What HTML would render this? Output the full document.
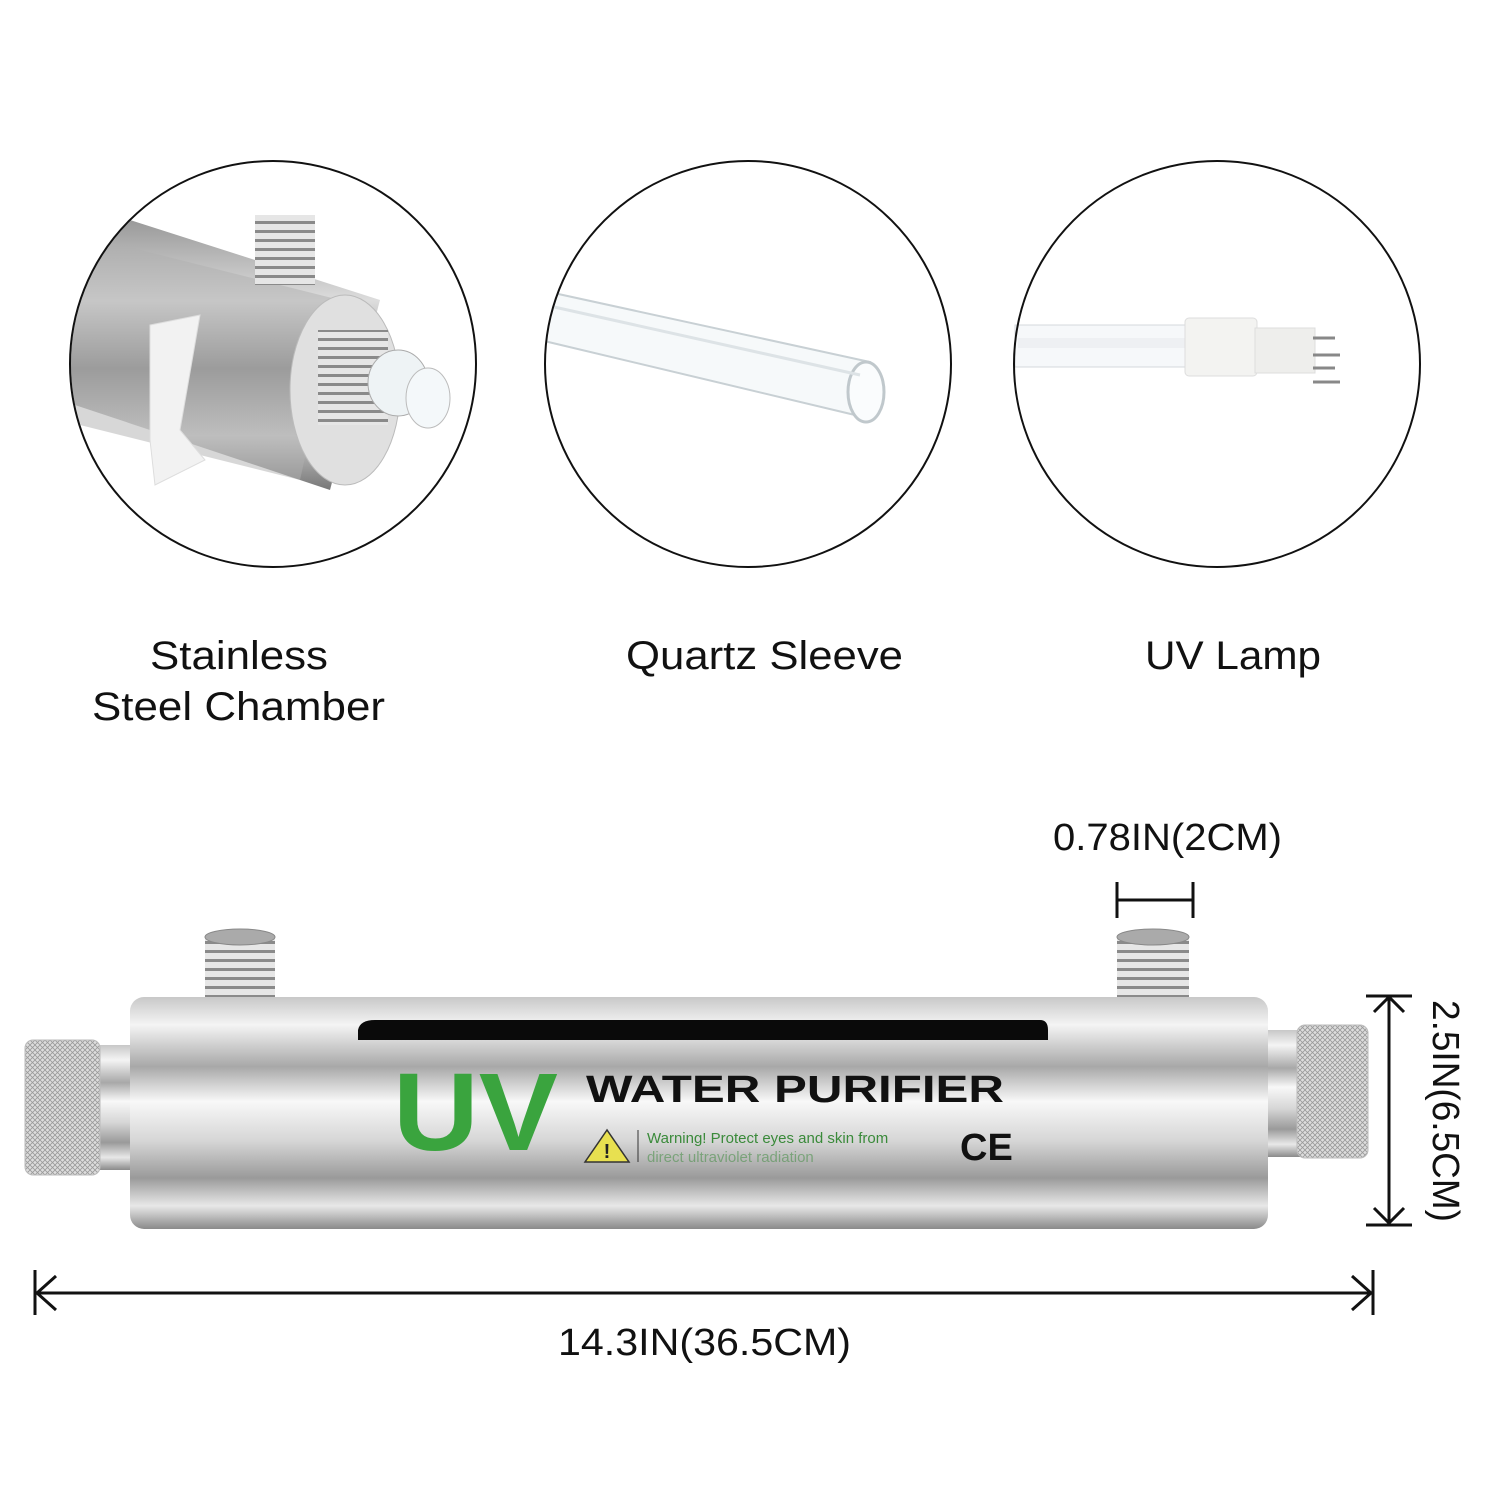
<!DOCTYPE html>
<html><head><meta charset="utf-8"><style>
html,body{margin:0;padding:0;background:#fff;}
svg{display:block;}
text{font-family:"Liberation Sans","DejaVu Sans",sans-serif;}
</style></head><body>
<svg width="1500" height="1500" viewBox="0 0 1500 1500" xmlns="http://www.w3.org/2000/svg">
<defs>
<linearGradient id="steel" x1="0" y1="0" x2="0" y2="1">
<stop offset="0" stop-color="#c8c8c8"/><stop offset="0.12" stop-color="#f4f4f4"/>
<stop offset="0.3" stop-color="#a8a8a8"/><stop offset="0.45" stop-color="#f8f8f8"/>
<stop offset="0.62" stop-color="#d6d6d6"/><stop offset="0.78" stop-color="#9a9a9a"/>
<stop offset="0.9" stop-color="#e8e8e8"/><stop offset="1" stop-color="#8a8a8a"/>
</linearGradient>
<linearGradient id="steel2" x1="0" y1="0" x2="0" y2="1">
<stop offset="0" stop-color="#999"/><stop offset="0.3" stop-color="#ddd"/>
<stop offset="0.55" stop-color="#888"/><stop offset="0.8" stop-color="#ccc"/><stop offset="1" stop-color="#777"/>
</linearGradient>
<pattern id="knurl" width="5" height="5" patternUnits="userSpaceOnUse">
<rect width="5" height="5" fill="#ddd"/><path d="M0 0L5 5M5 0L0 5" stroke="#999" stroke-width="0.8"/>
</pattern>
<pattern id="thread" width="10" height="9" patternUnits="userSpaceOnUse">
<rect width="10" height="9" fill="#e6e6e6"/><rect y="5" width="10" height="3" fill="#8a8a8a"/>
</pattern>
<clipPath id="c1"><circle cx="273" cy="364" r="202"/></clipPath>
<clipPath id="c2"><circle cx="748" cy="364" r="202"/></clipPath>
</defs>

<g clip-path="url(#c1)">
<polygon points="60,230 130,220 380,300 330,490 60,400" fill="url(#steel2)"/>
<path d="M80,235 L340,300 L300,480 L60,420Z" fill="#b0b0b0" opacity="0.5"/>
<ellipse cx="345" cy="390" rx="55" ry="95" fill="#e0e0e0" stroke="#bbb"/>
<rect x="318" y="330" width="70" height="95" fill="url(#thread)"/>
<ellipse cx="398" cy="383" rx="30" ry="33" fill="#eef3f5" stroke="#aaa"/>
<ellipse cx="428" cy="398" rx="22" ry="30" fill="#f4f8fa" stroke="#bbb"/>
<rect x="255" y="215" width="60" height="70" fill="url(#thread)"/>
<path d="M150,325 L200,315 L180,430 L205,460 L155,485 L150,440Z" fill="#f2f2f2" stroke="#ddd"/>
</g>
<circle cx="273" cy="364" r="203" fill="none" stroke="#111" stroke-width="2"/>

<g clip-path="url(#c2)">
<polygon points="540,290 870,362 855,415 540,340" fill="#f6f9fa" stroke="#c8d0d4" stroke-width="2"/>
<ellipse cx="866" cy="392" rx="18" ry="30" fill="#fafcfd" stroke="#c0c8cc" stroke-width="3"/>
<line x1="545" y1="305" x2="860" y2="375" stroke="#dde3e6" stroke-width="3"/>
</g>
<circle cx="748" cy="364" r="203" fill="none" stroke="#111" stroke-width="2"/>

<rect x="1015" y="325" width="175" height="42" fill="#f6f8fa" stroke="#d4d8dc"/>
<rect x="1018" y="338" width="172" height="10" fill="#eef0f3"/>
<rect x="1185" y="318" width="72" height="58" rx="4" fill="#f3f3f1" stroke="#ddd"/>
<rect x="1255" y="328" width="60" height="45" fill="#eeeeec" stroke="#ddd"/>
<g stroke="#888" stroke-width="3"><line x1="1313" y1="338" x2="1335" y2="338"/><line x1="1313" y1="355" x2="1340" y2="355"/><line x1="1313" y1="368" x2="1335" y2="368"/><line x1="1313" y1="382" x2="1340" y2="382"/></g>
<circle cx="1217" cy="364" r="203" fill="none" stroke="#111" stroke-width="2"/>

<text x="150" y="669" font-size="40" fill="#111" textLength="178" lengthAdjust="spacingAndGlyphs">Stainless</text>
<text x="92" y="720" font-size="40" fill="#111" textLength="293" lengthAdjust="spacingAndGlyphs">Steel Chamber</text>
<text x="626" y="669" font-size="40" fill="#111" textLength="277" lengthAdjust="spacingAndGlyphs">Quartz Sleeve</text>
<text x="1145" y="669" font-size="40" fill="#111" textLength="176" lengthAdjust="spacingAndGlyphs">UV Lamp</text>

<rect x="205" y="935" width="70" height="75" fill="url(#thread)"/>
<ellipse cx="240" cy="937" rx="35" ry="8" fill="#aaa" stroke="#888"/>
<rect x="1117" y="935" width="72" height="75" fill="url(#thread)"/>
<ellipse cx="1153" cy="937" rx="36" ry="8" fill="#aaa" stroke="#888"/>
<rect x="95" y="1045" width="45" height="125" fill="url(#steel)"/>
<rect x="25" y="1040" width="75" height="135" rx="8" fill="url(#knurl)" stroke="#bbb"/>
<rect x="1260" y="1030" width="45" height="127" fill="url(#steel)"/>
<rect x="1297" y="1025" width="71" height="133" rx="8" fill="url(#knurl)" stroke="#bbb"/>
<rect x="130" y="997" width="1138" height="232" rx="14" fill="url(#steel)"/>
<path d="M358,1040 L358,1030 Q360,1020 375,1020 L1040,1020 Q1048,1020 1048,1030 L1048,1040Z" fill="#0a0a0a"/>
<text x="393" y="1150" font-family="Liberation Serif,serif" font-size="110" font-weight="bold" fill="#3aa43e" textLength="165" lengthAdjust="spacingAndGlyphs">UV</text>
<text x="586" y="1102" font-size="38" font-weight="bold" fill="#111" textLength="418" lengthAdjust="spacingAndGlyphs">WATER PURIFIER</text>
<polygon points="607,1130 585,1162 629,1162" fill="#e8e050" stroke="#333" stroke-width="1.5"/>
<text x="607" y="1158" font-size="20" font-weight="bold" text-anchor="middle" fill="#222">!</text>
<line x1="638" y1="1130" x2="638" y2="1162" stroke="#333"/>
<text x="647" y="1143" font-size="15" fill="#3a8a3a">Warning! Protect eyes and skin from</text>
<text x="647" y="1162" font-size="15" fill="#3a8a3a" opacity="0.5">direct ultraviolet radiation</text>
<text x="960" y="1160" font-size="38" font-weight="bold" fill="#111">CE</text>

<g stroke="#111" stroke-width="3" fill="none">
<line x1="1117" y1="900" x2="1193" y2="900"/><line x1="1117" y1="882" x2="1117" y2="918"/><line x1="1193" y1="882" x2="1193" y2="918"/>
<line x1="1389" y1="996" x2="1389" y2="1225"/><line x1="1366" y1="996" x2="1412" y2="996"/><line x1="1366" y1="1225" x2="1412" y2="1225"/>
<polyline points="1374,1012 1389,997 1404,1012"/><polyline points="1374,1208 1389,1223 1404,1208"/>
<line x1="35" y1="1293" x2="1373" y2="1293"/><line x1="35" y1="1270" x2="35" y2="1315"/><line x1="1373" y1="1270" x2="1373" y2="1315"/>
<polyline points="56,1276 37,1293 56,1310"/><polyline points="1352,1276 1371,1293 1352,1310"/>
</g>
<text x="1053" y="850" font-size="38" fill="#111" textLength="229" lengthAdjust="spacingAndGlyphs">0.78IN(2CM)</text>
<text x="558" y="1355" font-size="38" fill="#111" textLength="293" lengthAdjust="spacingAndGlyphs">14.3IN(36.5CM)</text>
<text transform="translate(1433,1000) rotate(90)" font-size="38" fill="#111" textLength="222" lengthAdjust="spacingAndGlyphs">2.5IN(6.5CM)</text>
</svg>
</body></html>
